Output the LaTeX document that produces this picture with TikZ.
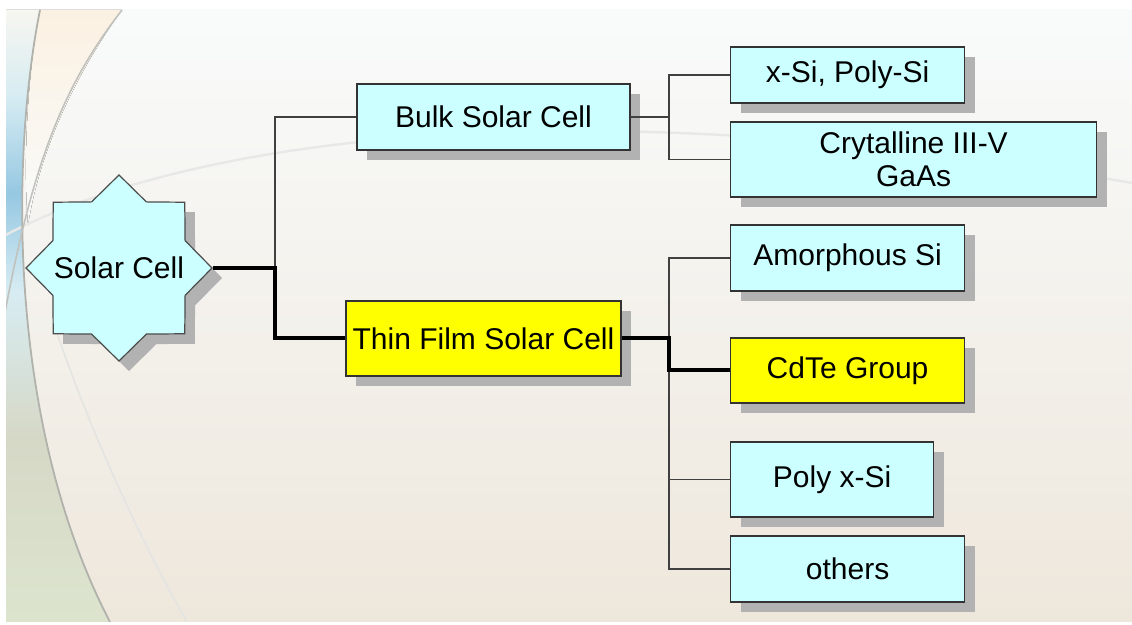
\documentclass[tikz,border=0pt]{standalone}
\usepackage{fontspec}
\setmainfont{Liberation Sans}
\usetikzlibrary{shapes.geometric,positioning,shadows,calc}

\definecolor{cellcyan}{RGB}{204,255,255}
\definecolor{cellyellow}{RGB}{255,255,0}
\definecolor{slidetop}{RGB}{249,251,251}
\definecolor{slidemid}{RGB}{245,245,240}
\definecolor{slidebottom}{RGB}{238,231,220}
\definecolor{lensbottom}{RGB}{220,228,206}
\definecolor{lensmid}{RGB}{214,216,198}
\definecolor{lensblue}{RGB}{150,200,226}
\definecolor{lenslight}{RGB}{215,236,242}
\definecolor{lenstop}{RGB}{247,246,240}
\definecolor{peach}{RGB}{251,241,226}
\definecolor{swoosh}{RGB}{178,178,172}

\pgfdeclareverticalshading{lensshade}{100bp}{%
  color(0bp)=(lensbottom); color(25bp)=(lensbottom); color(40bp)=(lensmid);
  color(52bp)=(lenslight); color(60bp)=(lensblue); color(68bp)=(lenslight);
  color(75bp)=(lenstop); color(100bp)=(lenstop)}

\begin{document}
\begin{tikzpicture}[
    x=0.5pt, y=-0.5pt,
    every node/.style={font=\fontsize{15}{16.5}\selectfont},
    box/.style={rectangle, draw=black!80, line width=0.6pt, fill=cellcyan, align=center, inner sep=0pt,
        drop shadow={shadow xshift=5pt, shadow yshift=-5pt, fill=black!30, opacity=1}},
    hot/.style={fill=cellyellow},
    starbox/.style={star, star points=8, star point ratio=1.3, minimum size=93pt, inner sep=0pt,
        draw=black!70, line width=0.6pt, fill=cellcyan,
        drop shadow={shadow xshift=5pt, shadow yshift=-5pt, fill=black!30, opacity=1}},
    link/.style={draw=black!75, line width=0.6pt},
    mainlink/.style={draw=black, line width=2pt},
]

% ====== Slide background ======
\fill[white] (0,0) rectangle (1132,625);
\useasboundingbox (0,0) rectangle (1132,625);
\begin{scope}
\clip (6,10) rectangle (1132,622);
\fill[top color=slidetop, middle color=slidemid, bottom color=slidebottom] (6,10) rectangle (1132,622);
\fill[shading=lensshade] (0,10) -- (40,10) .. controls (12,150) and (5,420) .. (110,622) -- (0,622) -- cycle;
\fill[top color=peach, bottom color=slidetop] (40,10) -- (122,10) .. controls (75,75) and (40,150) .. (28,225)
    .. controls (22,150) and (30,60) .. (40,10);
\draw[swoosh!30!white, line width=1.2pt] (0,238) .. controls (200,130) and (600,90) .. (1132,183);
\draw[swoosh, line width=0.9pt] (40,10) .. controls (12,150) and (5,420) .. (110,622);
\draw[swoosh!80!white, line width=0.8pt] (122,10) .. controls (60,90) and (30,170) .. (0,340);
\draw[swoosh!35!white, line width=0.8pt] (57,333) .. controls (90,430) and (140,540) .. (187,622);
\end{scope}

% ====== Root ======
\node[starbox, label=center:{Solar Cell}] (cell) at (119,268) {};

% ====== Second level ======
\node[box, minimum width=136.5pt, minimum height=33pt] (bulk) at (493.5,117) {Bulk Solar Cell};
\node[box, hot, minimum width=137.5pt, minimum height=37.5pt] (thin) at (483.5,338.5) {Thin Film Solar Cell};

% ====== Leaves ======
\node[box, anchor=west, minimum width=117pt, minimum height=28pt] (xsi) at (730,75) {x-Si, Poly-Si};
\node[box, anchor=west, minimum width=183pt, minimum height=37.5pt] (gaas) at (730,159.5) {Crytalline III-V\\GaAs};
\node[box, anchor=west, minimum width=117pt, minimum height=33pt] (amorph) at (730,258) {Amorphous Si};
\node[box, anchor=west, hot, minimum width=117pt, minimum height=32.5pt] (cdte) at (730,370.5) {CdTe Group};
\node[box, anchor=west, minimum width=101.5pt, minimum height=37.5pt] (polyx) at (730,479.5) {Poly x-Si};
\node[box, anchor=west, minimum width=117pt, minimum height=33pt] (others) at (730,569) {others};

% ====== Connectors ======
\coordinate (rootfork) at (275,268);
\coordinate (leaffork) at (669,0);

\draw[link] (rootfork) |- (bulk.west);
\draw[link] (bulk.east) -- (bulk.east -| leaffork) coordinate (bulkfork);
\draw[link] (xsi.west) -| (bulkfork) |- (gaas.west);
\draw[link] (amorph.west) -| (others.west -| leaffork) -- (others.west);
\draw[link] (polyx.west) -- (polyx.west -| leaffork);

\draw[mainlink] (cell.east) -- (rootfork) |- (thin.west);
\draw[mainlink] (thin.east) -- (thin.east -| leaffork) |- (cdte.west);

\end{tikzpicture}
\end{document}
